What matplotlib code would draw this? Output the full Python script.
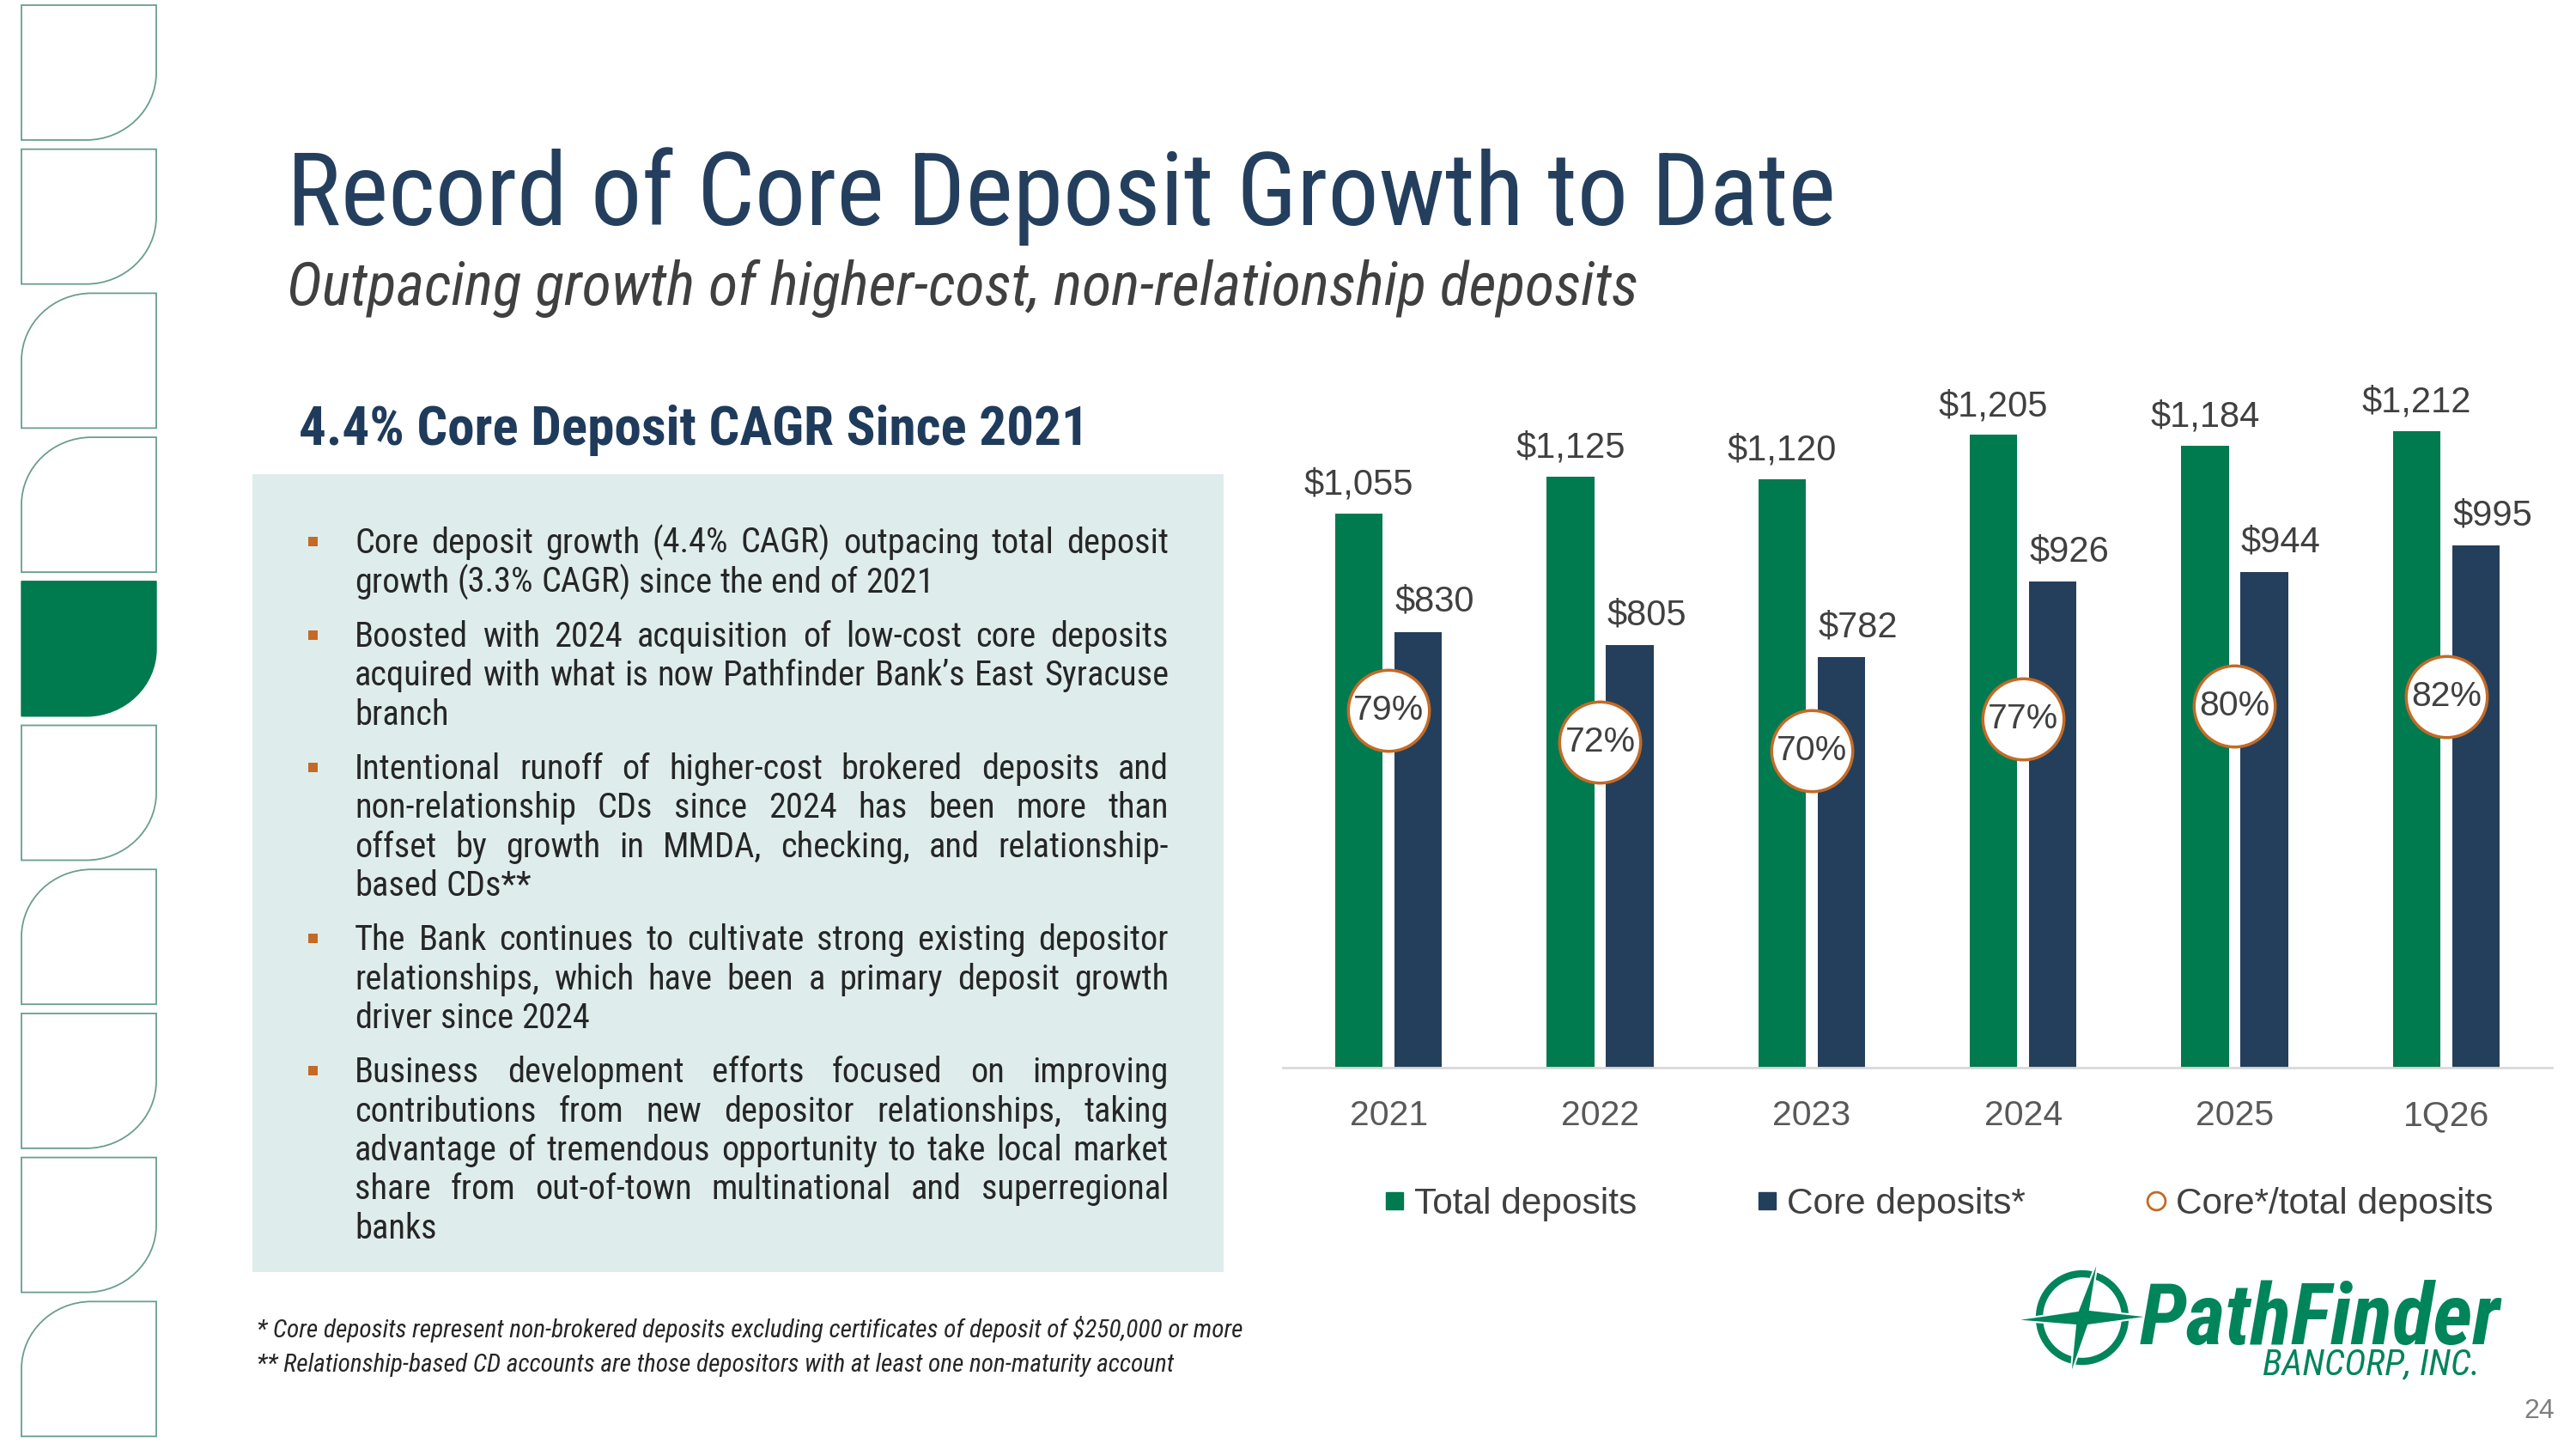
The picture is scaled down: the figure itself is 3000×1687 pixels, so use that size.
import matplotlib
matplotlib.use('Agg')
import matplotlib.pyplot as plt
from matplotlib import font_manager
from matplotlib.patches import PathPatch, Rectangle, Ellipse, Polygon
from matplotlib.path import Path
from matplotlib.lines import Line2D
import numpy as np

# ---- data ----
categories = ['2021', '2022', '2023', '2024', '2025', '1Q26']
total_deposits = [1055, 1125, 1120, 1205, 1184, 1212]
core_deposits = [830, 805, 782, 926, 944, 995]
core_ratio = [0.79, 0.72, 0.70, 0.77, 0.80, 0.82]

title = 'Record of Core Deposit Growth to Date'
subtitle = 'Outpacing growth of higher-cost, non-relationship deposits'
heading = '4.4% Core Deposit CAGR Since 2021'
bullets = [
    ['Core deposit growth (4.4% CAGR) outpacing total deposit',
     'growth (3.3% CAGR) since the end of 2021'],
    ['Boosted with 2024 acquisition of low-cost core deposits',
     'acquired with what is now Pathfinder Bank\u2019s East Syracuse',
     'branch'],
    ['Intentional runoff of higher-cost brokered deposits and',
     'non-relationship CDs since 2024 has been more than',
     'offset by growth in MMDA, checking, and relationship-',
     'based CDs**'],
    ['The Bank continues to cultivate strong existing depositor',
     'relationships, which have been a primary deposit growth',
     'driver since 2024'],
    ['Business development efforts focused on improving',
     'contributions from new depositor relationships, taking',
     'advantage of tremendous opportunity to take local market',
     'share from out-of-town multinational and superregional',
     'banks'],
]
footnotes = ['* Core deposits represent non-brokered deposits excluding certificates of deposit of $250,000 or more',
             '** Relationship-based CD accounts are those depositors with at least one non-maturity account']
legend_labels = ['Total deposits', 'Core deposits*', 'Core*/total deposits']

# ---- fonts / colours ----
installed = {f.name for f in font_manager.fontManager.ttflist}


def pick(*names):
    for n in names:
        if n in installed:
            return n
    return 'DejaVu Sans'


NARROW = pick('Roboto Condensed', 'Liberation Sans Narrow', 'Open Sans Condensed', 'Roboto')
SANS = pick('Liberation Sans', 'Arimo', 'DejaVu Sans')

GREEN = '#007A4F'
NAVY = '#243F5C'
ORANGE = '#C46A26'
LOGO_GREEN = '#00845A'
BOX_EDGE = '#6A9E8F'

W, H = 3000, 1687
fig = plt.figure(figsize=(30, 16.87), dpi=100)
bg = fig.add_axes([0, 0, 1, 1])
bg.set_xlim(0, W)
bg.set_ylim(H, 0)
bg.axis('off')
r = fig.canvas.get_renderer()


def width_of(t):
    return t.get_window_extent(renderer=r).width


def fit_text(x, y, s, width, **kw):
    t = bg.text(x, y, s, fontsize=40, va='baseline', **kw)
    t.set_fontsize(40 * width / width_of(t))
    return t


# ---- left decoration boxes ----
K = 0.5523


def box_path(x0, y0, w, h, corner):
    x1, y1 = x0 + w, y0 + h
    rx, ry = 0.52 * w, 0.5 * h
    if corner == 'br':
        verts = [(x0, y0), (x1, y0), (x1, y1 - ry),
                 (x1, y1 - ry + K * ry), (x1 - rx + K * rx, y1), (x1 - rx, y1),
                 (x0, y1), (x0, y0)]
        codes = [Path.MOVETO, Path.LINETO, Path.LINETO,
                 Path.CURVE4, Path.CURVE4, Path.CURVE4,
                 Path.LINETO, Path.CLOSEPOLY]
    else:
        verts = [(x0, y1), (x0, y0 + ry),
                 (x0, y0 + ry - K * ry), (x0 + rx - K * rx, y0), (x0 + rx, y0),
                 (x1, y0), (x1, y1), (x0, y1)]
        codes = [Path.MOVETO, Path.LINETO,
                 Path.CURVE4, Path.CURVE4, Path.CURVE4,
                 Path.LINETO, Path.LINETO, Path.CLOSEPOLY]
    return Path(verts, codes)


corners = ['br', 'br', 'tl', 'tl', 'br', 'br', 'tl', 'br', 'br', 'tl']
for i, c in enumerate(corners):
    top = 6 + i * 167.7
    if i == 4:
        bg.add_patch(PathPatch(box_path(25, top, 157, 157, c), fc=GREEN, ec=GREEN, lw=1))
    else:
        bg.add_patch(PathPatch(box_path(25, top, 157, 157, c), fc='white', ec=BOX_EDGE, lw=1.3))

# ---- titles ----
fit_text(334, 262, title, 1804, color='#243F5E', family=NARROW)
fit_text(334, 355, subtitle, 1573, color='#404040', family=NARROW, style='italic')
fit_text(348, 518, heading, 919, color='#1F3B5C', family=NARROW, fontweight='bold')

# ---- text panel ----
bg.add_patch(Rectangle((294, 552), 1425 - 294, 1481 - 552, fc='#DEEDEC', ec='none'))

probe = bg.text(0, 0, bullets[0][1], fontsize=20, family=NARROW)
body_size = 20 * 674 / width_of(probe)
probe.remove()
sp1 = bg.text(0, 0, 'a a', fontsize=body_size, family=NARROW)
sp2 = bg.text(0, 0, 'aa', fontsize=body_size, family=NARROW)
space_w = width_of(sp1) - width_of(sp2)
sp1.remove()
sp2.remove()

X0, X1 = 413, 1361
y = 644
for para in bullets:
    bg.add_patch(Rectangle((359, y - 19), 11, 11, fc=ORANGE, ec='none'))
    for j, line in enumerate(para):
        words = line.split(' ')
        ts = [bg.text(0, y, w, fontsize=body_size, family=NARROW, color='#262626',
                      va='baseline') for w in words]
        ws = [width_of(t) for t in ts]
        last = (j == len(para) - 1) or len(words) == 1
        gap = space_w if last else (X1 - X0 - sum(ws)) / (len(words) - 1)
        x = X0
        for t, w in zip(ts, ws):
            t.set_x(x)
            x += w + gap
        y += 45.5
    y += 17.5

# ---- footnotes ----
fn = fit_text(299, 1557, footnotes[0], 1149, color='#262626', family=NARROW, style='italic')
bg.text(299, 1597, footnotes[1], fontsize=fn.get_fontsize(), color='#262626',
        family=NARROW, style='italic', va='baseline')

# ---- page number ----
bg.text(2957, 1643, '24', fontsize=23, color='#7F7F7F', family=SANS, ha='center', va='center')

# ---- logo ----
cx, cy = 2425, 1534
bg.add_patch(Ellipse((cx, cy), 100, 102, fc='none', ec=LOGO_GREEN, lw=6))
star = [(2444, 1464), (2434, 1525), (2505, 1533), (2432, 1543), (2411, 1603),
        (2417, 1543), (2344, 1537), (2420, 1526)]
bg.add_patch(Polygon(star, closed=True, fc=LOGO_GREEN, ec='white', lw=1.5))
fit_text(2492, 1565, 'PathFinder', 420, color=LOGO_GREEN, family=NARROW,
         fontweight='bold', style='italic')
fit_text(2635, 1600, 'BANCORP, INC.', 253, color=LOGO_GREEN, family=NARROW, style='italic')

# ---- chart ----
left, right, base, top = 1494, 2972, 1243, 387
ax = fig.add_axes([left / W, 1 - base / H, (right - left) / W, (base - top) / H])
ax.set_facecolor('none')
x = np.arange(len(categories))
bw = 0.225
ax.bar(x - 0.14, total_deposits, bw, color=GREEN)
ax.bar(x + 0.14, core_deposits, bw, color=NAVY)
ax.set_xlim(-0.5, len(categories) - 0.5)
ax.set_ylim(0, 1400)
for xi, v in zip(x, total_deposits):
    ax.annotate(f'${v:,}', (xi - 0.14, v), xytext=(0, 16), textcoords='offset points',
                ha='center', va='baseline', fontsize=30, color='#404040', family=SANS)
for xi, v in zip(x, core_deposits):
    ax.annotate(f'${v:,}', (xi + 0.14, v), xytext=(14, 17), textcoords='offset points',
                ha='center', va='baseline', fontsize=30, color='#404040', family=SANS)
for s in ['top', 'left', 'right']:
    ax.spines[s].set_visible(False)
ax.spines['bottom'].set_color('#D9D9D9')
ax.spines['bottom'].set_linewidth(2)
ax.set_yticks([])
ax.set_xticks(x)
ax.set_xticklabels(categories, fontsize=29.5, color='#595959', family=SANS)
ax.tick_params(axis='x', length=0, pad=27)

ax2 = ax.twinx()
ax2.set_ylim(0, 1.625)
ax2.axis('off')
ax2.plot(x, core_ratio, ls='none', marker='o', ms=68, mfc='white', mec=ORANGE, mew=2.5,
         clip_on=False)
for xi, p in zip(x, core_ratio):
    ax2.text(xi, p, f'{p:.0%}', ha='center', va='center', fontsize=29.5, color='#404040',
             family=SANS)

handles = [Line2D([], [], ls='none', marker='s', ms=15, color=GREEN),
           Line2D([], [], ls='none', marker='s', ms=15, color=NAVY),
           Line2D([], [], ls='none', marker='o', ms=15, mfc='none', mec=ORANGE, mew=2)]
fig.legend(handles, legend_labels, loc='center', bbox_to_anchor=(0.7528, 1 - 1402 / H),
           ncol=3, frameon=False, prop={'family': SANS, 'size': 30.5}, labelcolor='#404040',
           handlelength=0.5, handletextpad=0.28, columnspacing=3.35)

fig.savefig('out.png', dpi=100)
